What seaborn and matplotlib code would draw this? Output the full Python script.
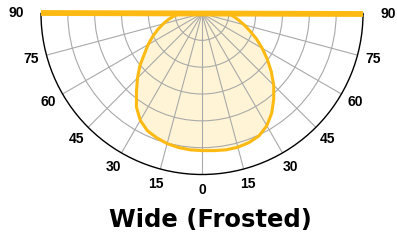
import numpy as np
import pandas as pd
import matplotlib
matplotlib.use("Agg")
import matplotlib.pyplot as plt
import seaborn as sns

# Beam angles (deg, 0 = straight down, negative = left side)
angles = [-90, -85, -80, -75, -70, -65, -60, -55, -50, -45, -40, -35, -30,
          -25, -20, -15, -10, -5, 0, 5, 10, 15, 20, 25, 30, 35, 40, 45,
          50, 55, 60, 65, 70, 75, 80, 85, 90]
# Relative intensity (outer ring = 6)
intensity = [0.80, 1.05, 1.27, 1.50, 1.76, 2.03, 2.32, 2.62, 3.02, 3.40,
             3.80, 4.26, 4.60, 4.82, 4.93, 5.02, 5.07, 5.10, 5.11, 5.13,
             5.16, 5.16, 5.12, 5.03, 4.83, 4.53, 4.16, 3.78, 3.37, 2.97,
             2.59, 2.24, 1.90, 1.62, 1.38, 1.17, 1.00]

grid_angles = [-90, -75, -60, -45, -30, -15, 0, 15, 30, 45, 60, 75, 90]
grid_labels = ["90", "75", "60", "45", "30", "15", "0", "15", "30", "45", "60", "75", "90"]
rings = [1, 2, 3, 4, 5]
r_max = 6
title = "Wide (Frosted)"

orange = "#FDBA12"
fill_col = "#FFF5D6"

sns.set_style("white")

df = pd.DataFrame({"theta": np.deg2rad(angles), "r": intensity})

fig = plt.figure(figsize=(3.97, 2.43), dpi=100)
# square box; the half-disc sits centred inside it
ax = fig.add_axes([41 / 397, -12 / 243, 322 / 397, 322 / 243], projection="polar")
ax.set_theta_zero_location("S")
ax.set_thetamin(-90)
ax.set_thetamax(90)
ax.set_ylim(0, r_max)

ax.set_thetagrids(grid_angles, labels=[""] * len(grid_angles))
ax.set_rgrids(rings, labels=[""] * len(rings))
ax.grid(True, color="#a9a9a9", linewidth=0.8)
ax.set_axisbelow("line")
ax.spines["polar"].set_color("black")
ax.spines["polar"].set_linewidth(1.0)
ax.spines["start"].set_visible(False)
ax.spines["end"].set_visible(False)
ax.tick_params(length=0)

# light fill sits under the grid, outline on top
ax.fill(df["theta"], df["r"], color=fill_col, zorder=0.3, linewidth=0)
sns.lineplot(data=df, x="theta", y="r", ax=ax, color=orange, linewidth=2.2,
             sort=False, zorder=3)
ax.set_xlabel("")
ax.set_ylabel("")

# mounting bar along the diameter
ax.plot(np.deg2rad([-90, 90]), [r_max, r_max], color=orange, linewidth=4.2,
        solid_capstyle="butt", clip_on=False, zorder=4)

for a, lab in zip(grid_angles, grid_labels):
    rr = r_max * (186 / 161 if abs(a) == 90 else 177 / 161)
    ax.text(np.deg2rad(a), rr, lab, ha="center", va="center", fontsize=10,
            fontweight="bold", family="Liberation Sans", color="black",
            clip_on=False)

fig.text(0.53, 1 - 220 / 243, title, ha="center", va="center", fontsize=17.5,
         fontweight="bold", family="DejaVu Sans", color="black")

fig.savefig("out.png", dpi=100)
